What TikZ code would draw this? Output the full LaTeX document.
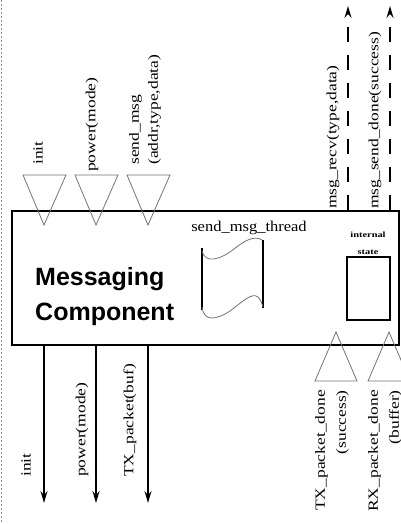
\documentclass[tikz,border=0pt]{standalone}
\usepackage{fontspec}
\setmainfont{Liberation Serif}
\newfontfamily\headfont{Liberation Sans}
\usetikzlibrary{arrows.meta}
\newcommand{\sx}[1]{\scalebox{1.25}[1]{#1}}
\begin{document}
\begin{tikzpicture}[x=1pt,y=-1pt,
  lbl/.style={font=\fontsize{14}{19}\selectfont, rotate=90, inner sep=0pt},
  tri/.style={draw=black!55, line width=0.8pt},
  flow/.style={line width=1.4pt, -{Stealth[length=12pt,width=7pt,inset=4pt]}},
  dflow/.style={flow, dash pattern=on 15pt off 13pt},
  wave/.style={draw=black!55, line width=0.8pt},
  heading/.style={font=\headfont\bfseries\fontsize{25}{30}\selectfont, inner sep=0pt, anchor=base west}]
\clip (0,0) rectangle (401,524);
\draw[black!45, line width=0.6pt, dash pattern=on 2pt off 2pt] (1,0) -- (1,524);

% main component box
\node[draw, line width=1.8pt, minimum width=387pt, minimum height=134pt, inner sep=0pt] (comp) at (205.5,278) {};
\node[heading] (title1) at (35,285) {Messaging};
\node[heading] (title2) at (35,320) {Component};

% top input triangles
\draw[tri] (23,175) -- (66,175) -- (44,225) -- cycle;
\draw[tri] (75,175) -- (118,175) -- (96,225) -- cycle;
\draw[tri] (127,175) -- (170,175) -- (148,225) -- cycle;
\node[lbl, anchor=west] (tinit) at (38,165) {\sx{init}};
\node[lbl, anchor=west] (tpow) at (92,172) {\sx{power(mode)}};
\node[lbl, anchor=west, align=left] (tsend) at (145,165) {\sx{send\_msg}\\\sx{(addr,type,data)}};

% bottom output arrows
\coordinate (o1) at (44,503);
\coordinate (o2) at (96,503);
\coordinate (o3) at (148,503);
\draw[flow] (comp.south -| o1) -- (o1);
\draw[flow] (comp.south -| o2) -- (o2);
\draw[flow] (comp.south -| o3) -- (o3);
\node[lbl, anchor=west] (binit) at (26,477) {\sx{init}};
\node[lbl, anchor=west] (bpow) at (82,477) {\sx{power(mode)}};
\node[lbl, anchor=west] (btx) at (130,477) {\sx{TX\_packet(buf)}};

% top right dashed outputs
\coordinate (u1) at (348,6);
\coordinate (u2) at (390,6);
\draw[dflow] (comp.north -| u1) -- (u1);
\draw[dflow] (comp.north -| u2) -- (u2);
\node[lbl, anchor=west] (recv) at (333,209) {\sx{msg\_recv(type,data)}};
\node[lbl, anchor=west] (sdone) at (375,209) {\sx{msg\_send\_done(success)}};

% bottom right input triangles
\draw[tri] (315,381) -- (357,381) -- (336,332) -- cycle;
\draw[tri] (368,381) -- (410,381) -- (389,332) -- cycle;
\node[lbl, anchor=east, align=right, font=\fontsize{14}{21}\selectfont] (txd) at (332,390) {\sx{TX\_packet\_done}\\\sx{(success)}};
\node[lbl, anchor=east, align=right, font=\fontsize{14}{21}\selectfont] (rxd) at (385,390) {\sx{RX\_packet\_done}\\\sx{(buffer)}};

% thread
\node[font=\fontsize{15}{17}\selectfont, inner sep=0pt, anchor=base] (thr) at (249,231) {\scalebox{1.1}[1]{send\_msg\_thread}};
\draw[line width=1.3pt] (202,248) -- (202,310);
\draw[line width=1.3pt] (263,240) -- (263,308);
\draw[wave] (202,251) .. controls (205,264) and (220,260) .. (234,249) .. controls (244,241) and (254,235) .. (262,240);
\draw[wave] (202,307) .. controls (204,322) and (216,320) .. (230,311) .. controls (242,302) and (252,292) .. (258,297) .. controls (261,300) and (262,304) .. (263,307);

% internal state
\node[draw, line width=1.3pt, minimum width=43pt, minimum height=63pt, inner sep=0pt] (istate) at (368.5,288.5) {};
\node[font=\fontsize{8}{17}\selectfont\bfseries, align=center, inner sep=0pt] (islbl) at (368,243) {\scalebox{1.3}[1]{internal}\\\scalebox{1.3}[1]{state}};
\end{tikzpicture}
\end{document}
